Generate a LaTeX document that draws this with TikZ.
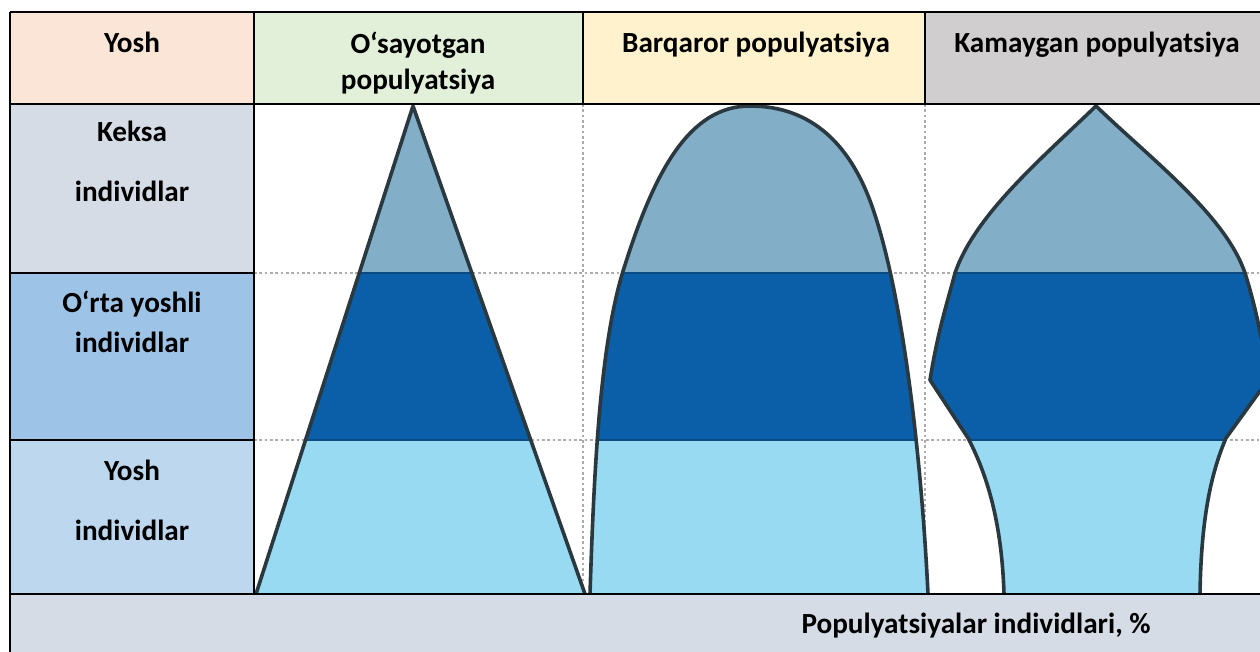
\documentclass[tikz,border=0pt]{standalone}
\usepackage{fontspec}
\setmainfont{Carlito}
\definecolor{hdA}{HTML}{FBE5D6}
\definecolor{hdB}{HTML}{E2F0D9}
\definecolor{hdC}{HTML}{FFF2CC}
\definecolor{hdD}{HTML}{D0CECE}
\definecolor{rowA}{HTML}{D6DCE5}
\definecolor{rowB}{HTML}{9DC3E6}
\definecolor{rowC}{HTML}{BDD7EE}
\definecolor{bandTop}{HTML}{82AEC8}
\definecolor{bandMid}{HTML}{0A5FA8}
\definecolor{bandLow}{HTML}{98DAF2}
\definecolor{bandEdge}{HTML}{0B4A82}
\definecolor{shapeEdge}{HTML}{2A3840}
\newcommand\pathTri{(256,594) -- (413,106) -- (585,594)}
\newcommand\pathBell{(590,594) .. controls (594,470) and (600,340) .. (625,265) .. controls (655,170) and (690,106) .. (750,106) .. controls (812,106) and (852,145) .. (874,212) .. controls (905,305) and (922,470) .. (928,594)}
\newcommand\pathUrn{(1004,594) .. controls (1002,530) and (990,480) .. (968,438) -- (930,380) .. controls (938,330) and (948,300) .. (955,273) .. controls (975,215) and (1040,160) .. (1096,106) .. controls (1152,160) and (1225,215) .. (1245,273) .. controls (1254,302) and (1262,335) .. (1268,380) -- (1226,438) .. controls (1208,480) and (1201,530) .. (1200,594)}
\begin{document}
\begin{tikzpicture}[x=0.75pt,y=-0.75pt,
  font=\fontsize{21.9}{26}\selectfont\bfseries,
  tline/.style={draw=black, line width=2pt},
  lbl/.style={anchor=base, inner sep=0pt},
  gridline/.style={draw=gray!65, line width=0.9pt, dash pattern=on 2pt off 2pt},
  outline/.style={draw=shapeEdge, line width=2.7pt, line join=round},
  bandsep/.style={draw=bandEdge, line width=1.2pt}]
\useasboundingbox (0,0) rectangle (1260,652);
\clip (0,0) rectangle (1260,652);
\fill[white] (0,0) rectangle (1260,652);
% header and row cells
\fill[hdA] (10,12) rectangle (254,104);
\fill[hdB] (254,12) rectangle (583,104);
\fill[hdC] (583,12) rectangle (925,104);
\fill[hdD] (925,12) rectangle (1270,104);
\fill[rowA] (10,104) rectangle (254,273);
\fill[rowB] (10,273) rectangle (254,440);
\fill[rowC] (10,440) rectangle (254,594);
\fill[rowA] (10,594) rectangle (1270,660);
% dotted guide lines
\draw[gridline] (254,273) -- (1270,273);
\draw[gridline] (254,440) -- (1270,440);
\draw[gridline] (583,104) -- (583,594);
\draw[gridline] (925,104) -- (925,594);
% shapes filled in three age bands
\foreach \shp in {\pathTri -- cycle, \pathBell -- cycle, \pathUrn -- cycle}{
  \begin{scope}
    \clip \shp;
    \fill[bandTop] (250,100) rectangle (1270,273);
    \fill[bandMid] (250,273) rectangle (1270,440);
    \fill[bandLow] (250,440) rectangle (1270,600);
    \draw[bandsep] (250,273) -- (1270,273);
    \draw[bandsep] (250,440) -- (1270,440);
  \end{scope}
}
\draw[outline] \pathTri;
\draw[outline] \pathBell;
\draw[outline] \pathUrn;
% table lines
\draw[tline] (10,12) -- (1270,12);
\draw[tline] (10,104) -- (1270,104);
\draw[tline] (10,594) -- (1270,594);
\draw[tline] (10,273) -- (254,273);
\draw[tline] (10,440) -- (254,440);
\draw[tline] (10,12) -- (10,660);
\draw[tline] (254,12) -- (254,594);
\draw[tline] (583,12) -- (583,104);
\draw[tline] (925,12) -- (925,104);
% texts
\node[lbl] (hYosh) at (132,53) {Yosh};
\node[lbl] (hOs1) at (418,54) {O‘sayotgan};
\node[lbl] (hOs2) at (418,90) {populyatsiya};
\node[lbl] (hBar) at (756,53) {Barqaror populyatsiya};
\node[lbl] (hKam) at (1097,53) {Kamaygan populyatsiya};
\node[lbl] (rK1) at (132,142) {Keksa};
\node[lbl] (rK2) at (132,202) {individlar};
\node[lbl] (rO1) at (132,313) {O‘rta yoshli};
\node[lbl] (rO2) at (132,352) {individlar};
\node[lbl] (rY1) at (132,480) {Yosh};
\node[lbl] (rY2) at (132,540) {individlar};
\node[lbl] (foot) at (976,633) {Populyatsiyalar individlari, \%};
\end{tikzpicture}
\end{document}
